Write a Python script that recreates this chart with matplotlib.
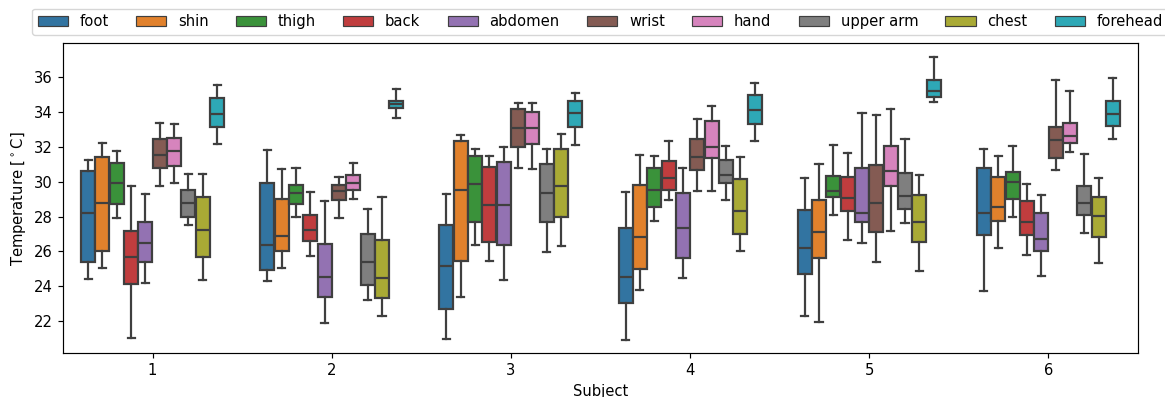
import matplotlib
matplotlib.use('Agg')
import matplotlib.pyplot as plt
from matplotlib.patches import Patch

# dane
subjects = ['1', '2', '3', '4', '5', '6']
locations = ['foot', 'shin', 'thigh', 'back', 'abdomen', 'wrist', 'hand',
             'upper arm', 'chest', 'forehead']

# wiersz = subject, kolumna = location
whisk_hi = [
    [31.25, 32.24, 31.75, 29.76, 29.30, 33.38, 33.32, 30.45, 30.45, 35.57],
    [31.82, 30.73, 30.79, 29.43, 28.89, 30.29, 31.09, 28.42, 29.14, 35.31],
    [29.31, 32.69, 31.90, 31.50, 32.01, 34.52, 34.50, 31.90, 32.74, 35.08],
    [29.41, 31.52, 31.46, 32.34, 30.81, 33.60, 34.35, 32.05, 31.44, 35.67],
    [30.22, 31.04, 32.11, 31.63, 33.93, 33.82, 34.16, 32.44, 30.39, 37.18],
    [31.88, 31.48, 32.04, 29.87, 29.26, 35.84, 35.20, 31.59, 30.22, 35.94],
]
q3 = [
    [30.62, 31.44, 31.08, 27.17, 27.67, 32.44, 32.50, 29.51, 29.14, 34.79],
    [29.93, 29.01, 29.81, 28.07, 26.43, 29.81, 30.41, 27.02, 26.65, 34.66],
    [27.52, 32.34, 31.46, 30.85, 31.15, 34.16, 33.99, 31.02, 31.86, 34.62],
    [27.33, 29.81, 30.81, 31.18, 29.37, 32.46, 33.49, 31.23, 30.14, 34.98],
    [28.36, 28.95, 30.31, 30.27, 30.77, 30.95, 32.05, 30.49, 29.24, 35.83],
    [30.81, 30.29, 30.56, 28.89, 28.19, 33.13, 33.39, 29.74, 29.14, 34.62],
]
median = [
    [28.21, 28.80, 29.95, 25.70, 26.47, 31.54, 31.75, 28.76, 27.23, 33.91],
    [26.39, 26.90, 29.37, 27.23, 24.51, 29.47, 29.95, 25.39, 24.45, 34.47],
    [25.14, 29.51, 29.85, 28.67, 28.67, 33.07, 33.11, 29.37, 29.76, 33.93],
    [24.53, 26.83, 29.51, 30.20, 27.33, 31.42, 32.00, 30.41, 28.34, 34.10],
    [26.20, 27.11, 29.49, 29.08, 28.22, 28.76, 30.64, 29.20, 27.69, 35.20],
    [28.21, 28.57, 29.99, 27.67, 26.71, 32.38, 32.63, 28.76, 28.03, 33.87],
]
q1 = [
    [25.37, 26.01, 28.72, 24.13, 25.37, 30.81, 30.91, 27.99, 25.68, 33.16],
    [24.91, 26.01, 28.74, 26.60, 23.38, 28.97, 29.53, 24.09, 23.34, 34.24],
    [22.71, 25.43, 27.67, 26.52, 26.39, 31.98, 32.17, 27.69, 27.99, 33.13],
    [23.02, 25.01, 28.55, 29.51, 25.62, 30.66, 31.35, 29.95, 26.98, 33.32],
    [24.70, 25.62, 29.14, 28.33, 27.67, 27.11, 29.74, 28.45, 26.53, 34.87],
    [26.94, 27.75, 29.01, 26.94, 26.00, 31.35, 32.20, 28.09, 26.83, 33.19],
]
whisk_lo = [
    [24.43, 25.05, 27.94, 21.04, 24.17, 29.76, 29.95, 27.52, 24.34, 32.15],
    [24.28, 25.06, 27.98, 25.75, 21.90, 27.94, 28.99, 23.21, 22.27, 33.65],
    [20.99, 23.38, 26.37, 25.43, 24.34, 30.81, 30.75, 25.98, 26.33, 32.11],
    [20.89, 23.78, 27.73, 28.94, 24.45, 29.45, 29.45, 28.97, 26.01, 32.36],
    [22.31, 21.96, 28.09, 26.67, 26.50, 25.41, 27.17, 27.61, 24.86, 34.58],
    [23.73, 26.18, 27.99, 25.78, 24.59, 30.66, 31.73, 27.07, 25.32, 32.44],
]

# kolory tab10 po desaturacji (jak w seabornie)
colors = ['#3274a1', '#e1812c', '#3a923a', '#c03d3e', '#9372b2',
          '#845b53', '#d684bd', '#7f7f7f', '#a9aa35', '#2ea8b6']
line_c = '#3f3f3f'

# oryginal byl troche powiekszony (~1.06x)
s = 1.06
plt.rcParams['font.size'] = 10 * s
plt.rcParams['axes.linewidth'] = 0.8 * s
plt.rcParams['xtick.major.size'] = 3.5 * s
plt.rcParams['ytick.major.size'] = 3.5 * s
plt.rcParams['xtick.major.width'] = 0.8 * s
plt.rcParams['ytick.major.width'] = 0.8 * s

fig = plt.figure(figsize=(11.65, 3.97), dpi=100)
ax = fig.add_axes([0.0541, 0.110, 0.9227, 0.781])

n_loc = len(locations)
box_w = 0.8 / n_loc
lw = 1.5 * s
for j, loc in enumerate(locations):
    stats = []
    pos = []
    for i in range(len(subjects)):
        stats.append({'whislo': whisk_lo[i][j], 'q1': q1[i][j], 'med': median[i][j],
                      'q3': q3[i][j], 'whishi': whisk_hi[i][j], 'fliers': []})
        pos.append(i - 0.4 + box_w * (j + 0.5))
    ax.bxp(stats, positions=pos, widths=box_w * 0.98, capwidths=box_w * 0.5,
           patch_artist=True, manage_ticks=False,
           boxprops=dict(facecolor=colors[j], edgecolor=line_c, linewidth=lw),
           medianprops=dict(color=line_c, linewidth=lw),
           whiskerprops=dict(color=line_c, linewidth=lw),
           capprops=dict(color=line_c, linewidth=lw))

ax.set_xticks(range(len(subjects)))
ax.set_xticklabels(subjects)
ax.set_xlim(-0.5, len(subjects) - 0.5)
ax.set_ylim(20.15, 37.95)
ax.set_xlabel('Subject')
ax.set_ylabel(r'Temperature [$^\circ$C]')

handles = [Patch(facecolor=c, edgecolor=line_c, linewidth=0.8 * s) for c in colors]
fig.legend(handles, locations, ncol=n_loc, loc='lower left',
           bbox_to_anchor=(0.0272, 0.911), borderaxespad=0,
           handlelength=2.05, columnspacing=1.85)

fig.savefig('out.png', dpi=100)
